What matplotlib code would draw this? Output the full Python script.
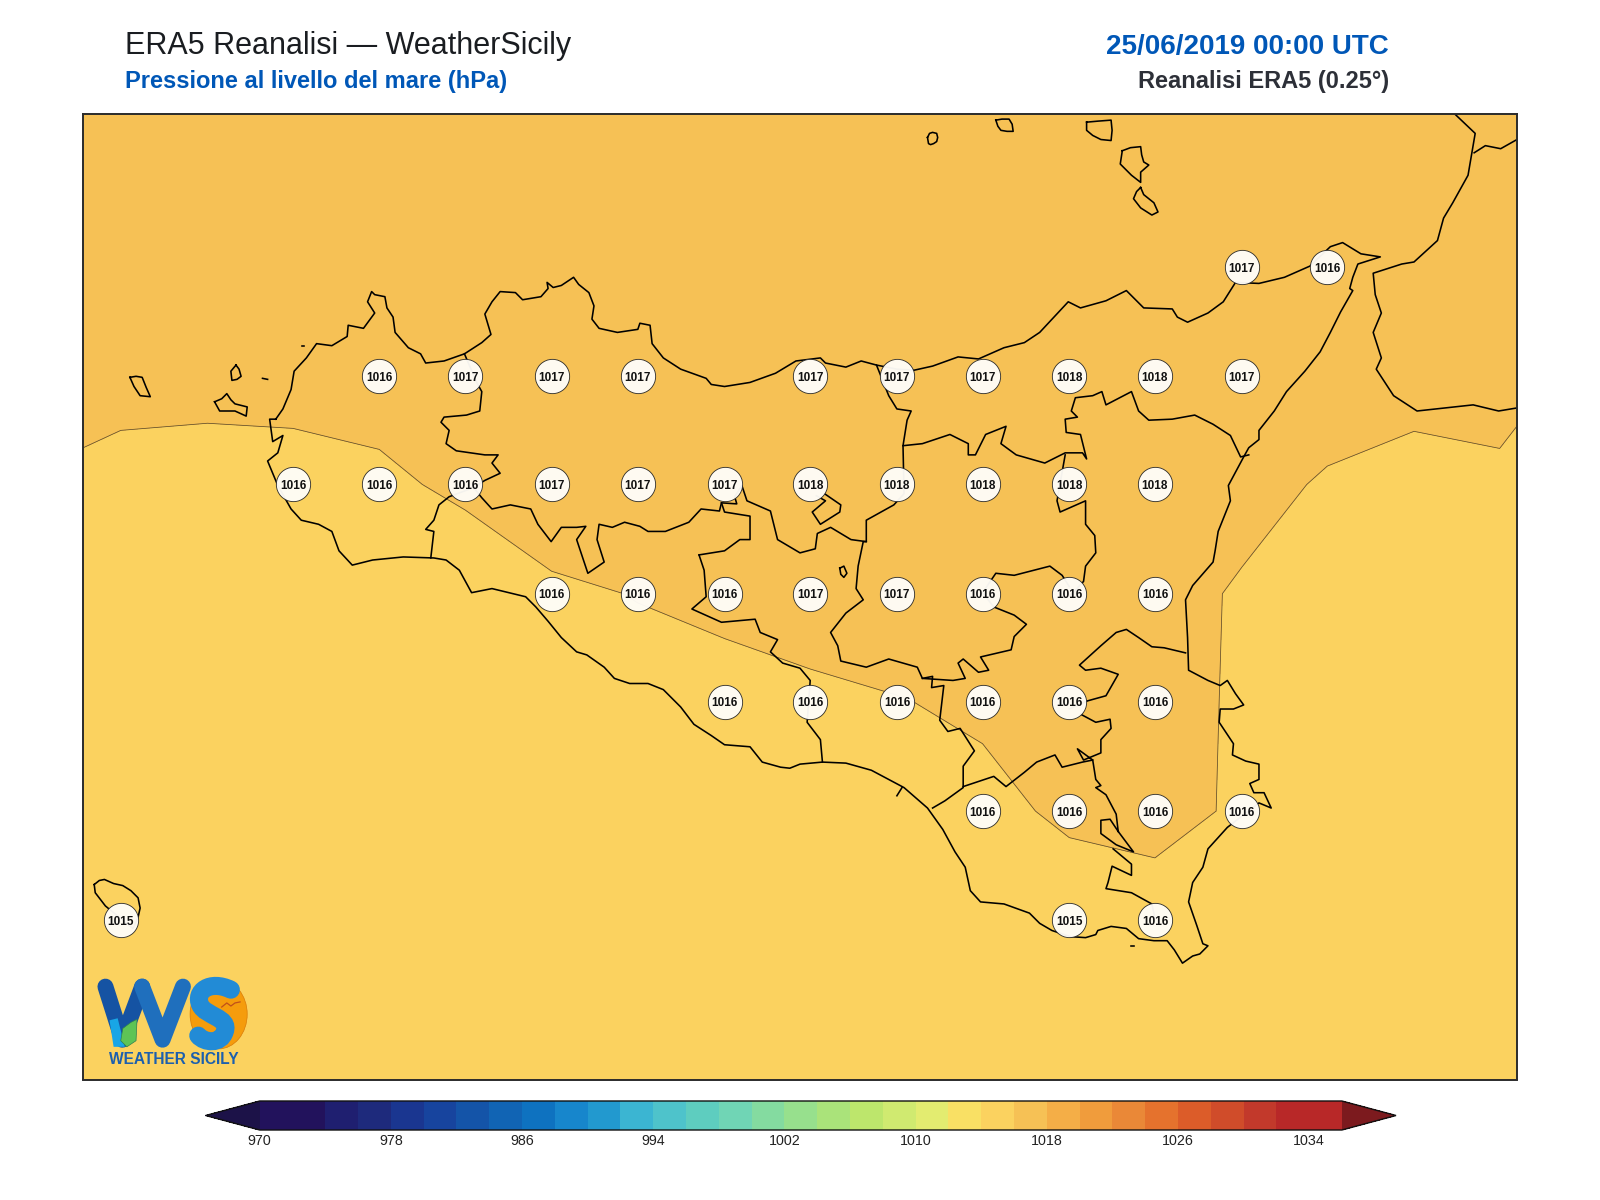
import matplotlib
matplotlib.use("Agg")
import matplotlib.pyplot as plt
from matplotlib.colors import ListedColormap, BoundaryNorm
from matplotlib.patches import Ellipse, PathPatch, Polygon
from matplotlib.path import Path
import numpy as np

plt.rcParams['font.family'] = ['Liberation Sans', 'DejaVu Sans']

TITLE_MAIN = "ERA5 Reanalisi \u2014 WeatherSicily"
TITLE_SUB = "Pressione al livello del mare (hPa)"
TITLE_DATE = "25/06/2019 00:00 UTC"
TITLE_SRC = "Reanalisi ERA5 (0.25\u00b0)"

# map coordinates of the 0.25 degree grid
grid_x = [33.5, 118, 203, 287, 371.5, 456, 540.5, 625, 710, 794, 879, 963, 1048, 1132, 1217, 1301, 1386, 1470, 1555]
grid_y = [48, 155, 262, 369, 475, 582, 688, 795, 902, 1008, 1115]

# sea level pressure (hPa), one row per grid_y
slp_r0 = [1016.5, 1016.5, 1016.6, 1016.6, 1016.7, 1016.7, 1016.8, 1016.8, 1016.8, 1016.8, 1016.8, 1016.8, 1016.7, 1016.7, 1016.6, 1016.6, 1016.5, 1016.5, 1016.4]
slp_r1 = [1016.5, 1016.5, 1016.6, 1016.6, 1016.7, 1016.7, 1016.8, 1016.8, 1016.8, 1016.9, 1016.9, 1016.9, 1016.8, 1016.8, 1016.7, 1016.6, 1016.5, 1016.5, 1016.3]
slp_r2 = [1016.5, 1016.5, 1016.5, 1016.5, 1016.6, 1016.7, 1016.8, 1016.8, 1016.9, 1016.9, 1017.0, 1017.0, 1017.0, 1016.9, 1016.7, 1016.4, 1016.5, 1016.5, 1016.2]
slp_r3 = [1016.33, 1016.30, 1016.23, 1016.26, 1016.25, 1016.60, 1016.80, 1016.90, 1017.00, 1017.10, 1017.20, 1017.40, 1017.55, 1017.55, 1017.30, 1016.586, 1016.30, 1016.40, 1015.78]
slp_r4 = [1015.95, 1015.70, 1015.70, 1015.72, 1015.88, 1016.12, 1016.58, 1016.75, 1017.20, 1017.55, 1017.60, 1017.65, 1017.70, 1017.60, 1016.38, 1015.88, 1015.71, 1015.80, 1015.70]
slp_r5 = [1015.8, 1015.7, 1015.7, 1015.7, 1015.65, 1015.61, 1015.85, 1016.03, 1016.17, 1016.55, 1016.60, 1016.45, 1016.45, 1016.42, 1015.88, 1015.7, 1015.7, 1015.7, 1015.7]
slp_r6 = [1015.7, 1015.7, 1015.7, 1015.7, 1015.7, 1015.7, 1015.7, 1015.68, 1015.76, 1015.76, 1015.96, 1016.165, 1016.35, 1016.40, 1015.86, 1015.7, 1015.7, 1015.7, 1015.7]
slp_r7 = [1015.6, 1015.6, 1015.6, 1015.6, 1015.6, 1015.6, 1015.6, 1015.6, 1015.6, 1015.6, 1015.7, 1015.734, 1016.17, 1016.30, 1015.875, 1015.7, 1015.7, 1015.6, 1015.6]
slp_r8 = [1015.4, 1015.4, 1015.5, 1015.5, 1015.5, 1015.5, 1015.5, 1015.5, 1015.5, 1015.5, 1015.5, 1015.5, 1015.47, 1015.60, 1015.6, 1015.6, 1015.5, 1015.5, 1015.5]
slp_r9 = [1015.3, 1015.3, 1015.4, 1015.4, 1015.4, 1015.4, 1015.4, 1015.4, 1015.4, 1015.4, 1015.4, 1015.4, 1015.4, 1015.4, 1015.4, 1015.4, 1015.4, 1015.4, 1015.4]
slp_r10 = [1015.2, 1015.2, 1015.3, 1015.3, 1015.3, 1015.3, 1015.3, 1015.3, 1015.3, 1015.3, 1015.3, 1015.3, 1015.3, 1015.3, 1015.3, 1015.3, 1015.3, 1015.3, 1015.3]

# grid points that carry a value label (column, row)
label_cols = [14, 15,
              4, 5, 6, 7, 9, 10, 11, 12, 13, 14,
              3, 4, 5, 6, 7, 8, 9, 10, 11, 12, 13,
              6, 7, 8, 9, 10, 11, 12, 13,
              8, 9, 10, 11, 12, 13,
              11, 12, 13, 14,
              1, 12, 13]
label_rows = [2, 2,
              3, 3, 3, 3, 3, 3, 3, 3, 3, 3,
              4, 4, 4, 4, 4, 4, 4, 4, 4, 4, 4,
              5, 5, 5, 5, 5, 5, 5, 5,
              6, 6, 6, 6, 6, 6,
              7, 7, 7, 7,
              8, 8, 8]

levels = [970] + list(range(974, 1033, 2)) + [1036]
band_colors = ['#22125c', '#1f1f70', '#1e2a7c', '#1a3690', '#17449e', '#1454a8', '#1164b4', '#0e72c0',
               '#1786cc', '#2299cf', '#3bb5d2', '#4ec3cb', '#5ecdbf', '#70d5b5', '#84dba0', '#97e08d',
               '#aae37a', '#bde66c', '#d0ea70', '#e3ec70', '#f9e064', '#fbd25f', '#f6c155', '#f4ae47',
               '#f09c3c', '#ea8837', '#e5722d', '#dc5c29', '#d04c2a', '#c2392b', '#b82828']
under_color = '#1c1248'
over_color = '#7c1a1e'
cbar_ticks = [970, 978, 986, 994, 1002, 1010, 1018, 1026, 1034]

# outlines, map coordinates
sicily_coast = [(270,411),(277,401),(285,382),(288,364),(300,351),(310,337),(325,339),(340,330),(341,319),(356,322),(367,307),(360,296),(364,286),(367,289),(377,291),(379,302),(385,311),(387,326),(400,341),(412,347),(417,356),(435,354),(455,347),(472,336),(481,328),(475,308),(482,296),(490,286),(505,287),(512,294),(530,291),(537,283),(536,277),(542,282),(550,280),(562,272),(567,279),(577,287),(582,300),(580,313),(587,322),(605,326),(625,323),(627,317),(637,319),(639,337),(650,351),(667,362),(692,371),(697,377),(710,379),(735,375),(760,366),(780,354),(804,351),(809,356),(829,360),(844,354),(859,358),(879,362),(896,363),(914,359),(939,350),(959,352),(984,341),(1004,336),(1019,326),(1047,296),(1059,302),(1084,295),(1104,285),(1121,302),(1149,303),(1154,311),(1164,316),(1184,307),(1199,296),(1211,277),(1234,278),(1259,272),(1284,261),(1304,242),(1316,238),(1334,249),(1353,252),(1331,259),(1326,272),(1323,283),(1326,285),(1314,306),(1304,326),(1294,345),(1279,364),(1261,384),(1249,403),(1234,422),(1234,431),(1224,439),(1219,448),(1204,476),(1206,491),(1194,521),(1191,540),(1189,551),(1169,574),(1162,588),(1164,625),(1165,657),(1184,667),(1196,672),(1203,667),(1211,680),(1219,691),(1209,695),(1196,695),(1195,708),(1209,729),(1208,740),(1221,746),(1234,749),(1234,764),(1225,768),(1229,777),(1239,777),(1246,792),(1234,787),(1203,811),(1184,832),(1179,850),(1169,865),(1165,884),(1173,907),(1179,925),(1184,927),(1176,935),(1169,937),(1159,944),(1151,931),(1144,922),(1131,922),(1116,920),(1104,910),(1089,908),(1076,912),(1074,916),(1064,919),(1049,918),(1031,912),(1019,905),(1009,895),(984,886),(961,884),(951,873),(946,850),(936,835),(924,813),(909,792),(886,772),(871,764),(854,755),(829,748),(806,747),(784,749),(774,753),(765,752),(747,747),(735,732),(710,730),(697,721),(680,710),(667,693),(650,676),(635,670),(617,670),(602,665),(592,654),(575,642),(565,639),(550,625),(537,609),(525,595),(515,585),(482,577),(462,581),(450,559),(437,549),(425,547),(395,546),(365,549),(345,554),(332,540),(325,521),(312,514),(295,510),(285,499),(272,476),(262,452),(272,444),(277,427),(267,433),(264,411),(270,411)]
calabria_coast = [(1426,112),(1446,131),(1439,172),(1424,199),(1415,214),(1409,236),(1386,257),(1374,259),(1346,268),(1348,289),(1354,307),(1346,326),(1354,351),(1349,362),(1366,388),(1389,403),(1444,397),(1469,403),(1487,400)]
calabria_inner = [(1445,150),(1456,143),(1471,146),(1487,137)]
border_tp_pa = [(455,347),(467,375),(472,384),(470,403),(457,407),(435,409),(432,414),(440,422),(437,435),(447,442),(475,446),(488,446),(482,454),(490,464),(475,471),(464,478),(472,488),(482,499),(500,495),(520,499),(527,514),(540,531),(550,517),(565,517),(574,516),(565,529),(570,544),(576,562),(592,551),(585,529),(587,514),(600,517),(612,512),(627,516),(635,521),(652,521),(675,512),(687,499),(705,501),(707,493),(722,494),(720,487),(727,476),(732,491),(755,501),(762,529),(784,542),(799,538),(801,523),(814,517),(834,529),(849,531),(849,510),(876,495),(886,484),(885,437),(889,412),(893,403),(879,401),(871,388),(859,358)]
border_tp_ag = [(422,547),(425,521),(417,519),(425,510),(430,495),(440,487),(464,478)]
border_me = [(885,437),(904,435),(931,426),(949,435),(949,446),(956,446),(966,426),(986,418),(981,435),(996,446),(1024,454),(1044,444),(1061,444),(1065,450),(1059,426),(1045,424),(1044,411),(1056,409),(1050,403),(1054,390),(1071,388),(1080,384),(1084,397),(1109,384),(1116,403),(1126,412),(1149,411),(1171,407),(1189,416),(1206,427),(1216,448),(1224,446)]
border_en_ct = [(1044,446),(1036,491),(1039,502),(1064,491),(1064,514),(1073,525),(1074,542),(1064,555),(1062,570),(1048,585)]
border_en_s = [(1048,575),(1041,564),(1029,555),(994,564),(976,562),(963,581),(974,595),(994,603),(1006,612),(994,624),(991,637),(961,644),(969,657),(959,659),(944,646),(939,650),(946,665),(934,667),(904,665),(899,654),(871,646),(849,654),(824,648),(821,633),(814,620),(829,601),(846,588),(839,577),(841,555),(846,531),(849,531)]
border_cl = [(685,544),(710,540),(725,529),(735,529),(735,506),(710,502),(707,493)]
border_cl_s = [(685,544),(690,559),(692,585),(678,597),(707,610),(740,607),(745,620),(762,627),(755,639),(767,650),(784,655),(794,667),(791,708),(804,725),(806,747)]
border_rg = [(904,665),(914,663),(913,674),(925,672),(921,706),(929,717),(941,714),(955,736),(944,751),(944,772),(926,785),(914,792)]
border_ct_s = [(944,771),(974,761),(986,771),(1004,757),(1016,747),(1034,740),(1041,752),(1061,747),(1071,745),(1056,734),(1062,745),(1079,738),(1079,725),(1089,714),(1088,705),(1074,708),(1059,700)]
border_ct_n = [(1048,695),(1066,687),(1084,682),(1096,661),(1079,655),(1064,657),(1058,652),(1079,633),(1094,620),(1104,617),(1116,625),(1129,634),(1141,635),(1162,640)]
border_sr = [(1071,745),(1074,764),(1079,770),(1074,772),(1084,779),(1094,798),(1096,815),(1111,835),(1094,828),(1079,817),(1079,804),(1088,803),(1096,815)]
syracuse_shore = [(1091,832),(1109,847),(1109,858),(1090,849),(1086,865),(1084,871),(1109,875),(1129,886),(1132,900)]
gela_tick = [(884,772),(879,780)]
enclave = [(808,484),(824,495),(823,502),(804,514),(796,502),(809,491),(800,486)]
lake = [(823,557),(827,555),(830,562),(827,566),(824,563),(823,557)]
marettimo = [(127,370),(133,369),(139,370),(143,380),(147,389),(137,388),(131,379),(127,370)]
levanzo = [(231,358),(234,362),(236,369),(232,372),(227,373),(226,364),(231,358)]
favignana = [(210,394),(217,391),(222,386),(226,392),(230,396),(242,399),(241,408),(230,403),(215,403),(210,394)]
tiny_isle = [(257,371),(262,372)]
ustica = [(296,339),(298,339)]
kamarina = [(1109,927),(1111,927)]
pantelleria = [(92,867),(97,863),(102,862),(111,866),(120,868),(128,873),(135,880),(137,890),(135,899),(130,910),(103,888),(93,875),(92,867)]
alicudi = [(909,135),(911,131),(914,130),(918,131),(919,135),(918,139),(915,141),(912,142),(910,141),(909,135)]
filicudi = [(976,118),(982,117),(989,117),(992,122),(993,129),(987,129),(981,128),(978,124),(976,118)]
salina = [(1065,120),(1076,119),(1089,118),(1090,128),(1089,138),(1079,137),(1071,133),(1065,128),(1065,120)]
lipari = [(1100,148),(1108,145),(1118,144),(1119,152),(1121,159),(1126,162),(1118,169),(1118,179),(1109,172),(1098,161),(1100,148)]
vulcano = [(1118,184),(1121,191),(1131,199),(1135,208),(1129,211),(1118,204),(1111,195),(1114,188),(1118,184)]
outlines = [sicily_coast, calabria_coast, calabria_inner, border_tp_pa, border_tp_ag, border_me, border_en_ct,
            border_en_s, border_cl, border_cl_s, border_rg, border_ct_s, border_ct_n, border_sr, syracuse_shore,
            gela_tick, enclave, lake, marettimo, levanzo, favignana, tiny_isle, ustica, kamarina, pantelleria,
            alicudi, filicudi, salina, lipari, vulcano]

W, H = 1600, 1200
fig = plt.figure(figsize=(16, 12), dpi=100, facecolor='white')
ax = fig.add_axes([83/W, 1-1079.5/H, (1517-83)/W, (1079.5-114)/H])
ax.set_xlim(81, 1487)
ax.set_ylim(1058, 112)
ax.set_xticks([]); ax.set_yticks([])
for s in ax.spines.values():
    s.set_linewidth(1.4); s.set_color('#2b2b2b')
    s.set_zorder(20)

slp = np.array([slp_r0, slp_r1, slp_r2, slp_r3, slp_r4, slp_r5, slp_r6, slp_r7, slp_r8, slp_r9, slp_r10])
cmap = ListedColormap(band_colors).with_extremes(under=under_color, over=over_color)
norm = BoundaryNorm(levels, cmap.N)
cf = ax.contourf(grid_x, grid_y, slp, levels=levels, cmap=cmap, norm=norm, extend='both')
ax.contour(grid_x, grid_y, slp, levels=levels, colors='#3a3020', linewidths=0.55, alpha=0.8)

for line in outlines:
    xs, ys = zip(*line)
    ax.plot(xs, ys, color='black', lw=1.15, solid_joinstyle='round', zorder=4)

lx = [grid_x[c] for c in label_cols]
ly = [grid_y[r] for r in label_rows]
ax.scatter(lx, ly, s=610, facecolor='#fffdf8', edgecolor='#222222', linewidths=0.6, alpha=0.96, zorder=6)
for c, r in zip(label_cols, label_rows):
    ax.text(grid_x[c], grid_y[r], f"{slp[r, c]:.0f}", ha='center', va='center_baseline', fontsize=8.5,
            fontweight='bold', color='#111111', zorder=7)

# logo
W_stroke = [(103,967),(119.5,1019),(139,967),(159,1019),(179,967)]
ax.plot(*zip(*W_stroke[:3]), color='#1553a3', lw=11.5, solid_capstyle='round', solid_joinstyle='round', zorder=8)
ax.plot(*zip(*W_stroke[2:]), color='#1f6fbd', lw=11.5, solid_capstyle='round', solid_joinstyle='round', zorder=8)
ax.add_patch(Polygon([(107,1000),(111,1026),(122,1026),(115,998)], closed=True, facecolor='#18a6e6', edgecolor='none', zorder=9))
ax.add_patch(Polygon([(118,1020),(120,1008),(128,1002),(134,999),(133,1020),(124,1026)], closed=True, facecolor='#5ec455', edgecolor='#2f7f50', lw=0.5, zorder=9))
ax.add_patch(Ellipse((214,994), 56, 68, facecolor='#f59c0c', edgecolor='#d97b08', lw=0.5, zorder=8))
s_path = Path([(226,970),(205,960),(190,972),(196,985),(201,996),(225,997),(220,1011),(216,1024),(200,1022),(194,1015)],
              [Path.MOVETO, Path.CURVE4, Path.CURVE4, Path.CURVE4, Path.CURVE4, Path.CURVE4, Path.CURVE4, Path.CURVE4, Path.CURVE4, Path.CURVE4])
ax.add_patch(PathPatch(s_path, facecolor='none', edgecolor='#228bd6', lw=13, capstyle='round', zorder=9))
ax.plot([217,222,226,230,235], [987,983,986,983,982], color='#c0501a', lw=0.9, zorder=10)
ax.text(170, 1038, "WEATHER SICILY", ha='center', va='center', fontsize=11.2, fontweight='bold', color='#1c5fae', zorder=9)

# titles
fig.text(124.5/W, 1-53.6/H, TITLE_MAIN, fontsize=22, color='#1a1d21', ha='left', va='baseline')
fig.text(124.5/W, 1-88/H, TITLE_SUB, fontsize=17, fontweight='bold', color='#0057b7', ha='left', va='baseline')
fig.text(1389/W, 1-53.6/H, TITLE_DATE, fontsize=20, fontweight='bold', color='#0057b7', ha='right', va='baseline')
fig.text(1389/W, 1-88/H, TITLE_SRC, fontsize=17, fontweight='bold', color='#2d3038', ha='right', va='baseline')

# colour bar
cax = fig.add_axes([205.6/W, 1-1130/H, (1395-204.6)/W, 29/H])
cb = fig.colorbar(cf, cax=cax, orientation='horizontal', extend='both', extendfrac=0.05,
                  spacing='proportional', ticks=cbar_ticks, drawedges=False)
cb.minorticks_off()
cb.ax.tick_params(length=0, pad=3, labelsize=10.3, labelcolor='#222222')
cb.outline.set_linewidth(1.0)
cb.outline.set_edgecolor('#111111')

fig.savefig('out.png', dpi=100, facecolor='white')
